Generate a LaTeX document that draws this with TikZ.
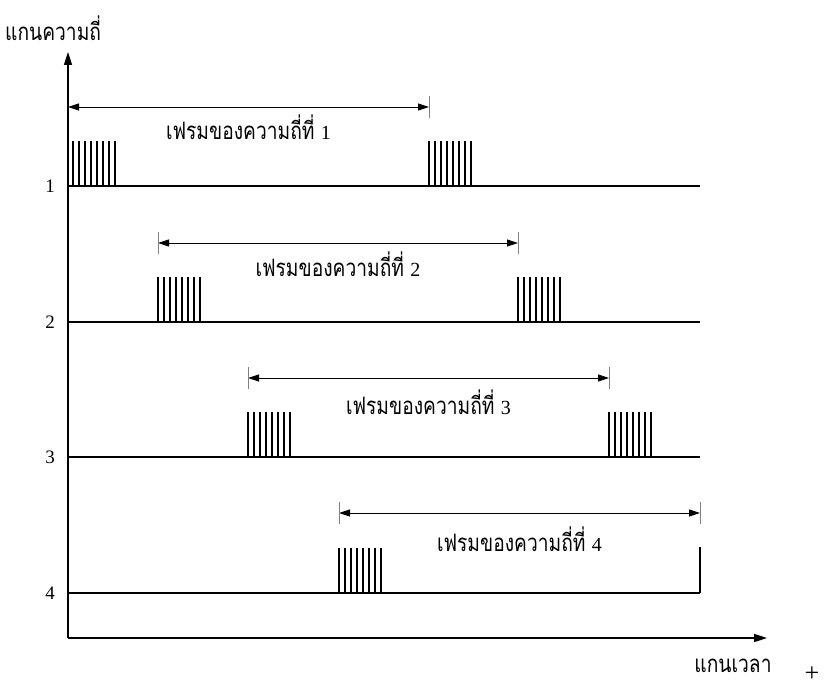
\documentclass[tikz,border=0pt]{standalone}
\usepackage{fontspec}
\setmainfont{Liberation Serif}
\newfontfamily\thaifont[Script=Thai, FakeStretch=0.8]{Loma}
\usetikzlibrary{arrows.meta, positioning}

\begin{document}
\begin{tikzpicture}[x=1pt, y=-1pt,
    axisline/.style={line width=1.6pt, -{Triangle[length=13pt, width=8pt]}},
    chanline/.style={line width=1.2pt},
    pulse/.style={line width=1.2pt},
    span/.style={line width=0.8pt, {Triangle[length=11pt, width=7pt]}-{Triangle[length=11pt, width=7pt]}},
    endtick/.style={line width=0.8pt, draw=gray},
    thai/.style={font=\thaifont\fontsize{24}{26}\selectfont, inner sep=0pt},
    chan/.style={font=\fontsize{19}{21}\selectfont, anchor=east, inner sep=0pt},
  ]
  \useasboundingbox (0,0) rectangle (825,690);
  % axes
  \coordinate (origin) at (68,638);
  \coordinate (ytip) at (68,52);
  \coordinate (xtip) at (767,638);
  \draw[axisline] (origin) -- (ytip);
  \draw[axisline] (origin) -- (xtip);
  \node[thai, anchor=west] (ylabel) at (5,28) {แกนความถี่};
  \node[thai] (xlabel) at (733,666) {แกนเวลา};
  \node[font=\fontsize{26}{28}\selectfont, inner sep=0pt] (plus) at (812,674) {+};

  % channel lines
  \foreach \i/\y in {1/186, 2/322, 3/457, 4/593} {
    \node[chan] (c\i) at (55,\y) {\i};
    \coordinate (l\i) at (68,\y);
    \coordinate (r\i) at (700,\y);
    \draw[chanline] (l\i) -- (r\i);
  }
  \coordinate (r4top) at (700,547);
  \draw[chanline] (r4) -- (r4top);

  % pulse bursts
  \foreach \x/\y in {73/186, 429/186, 158/322, 518/322, 248/457, 609/457, 339/593}
    \foreach \k in {0,...,7}
      \draw[pulse] (\x+\k*6,\y) -- (\x+\k*6,\y-45);

  % frames
  \foreach \i/\a/\b/\y/\t in {1/68/429/107/127, 2/158/518/243/264, 3/248/609/378/402, 4/339/700/513/539} {
    \coordinate (fa\i) at (\a,\y);
    \coordinate (fb\i) at (\b,\y);
    \draw[span] (fa\i) -- (fb\i);
    \draw[endtick] ([yshift=11pt]fb\i) -- ([yshift=-11pt]fb\i);
    \node[thai] (f\i) at ({(\a+\b)/2},\t) {เฟรมของความถี่ที่ {\rmfamily\fontsize{20}{22}\selectfont\i}};
  }
  \foreach \i in {2,3,4}
    \draw[endtick] ([yshift=11pt]fa\i) -- ([yshift=-11pt]fa\i);
\end{tikzpicture}
\end{document}
